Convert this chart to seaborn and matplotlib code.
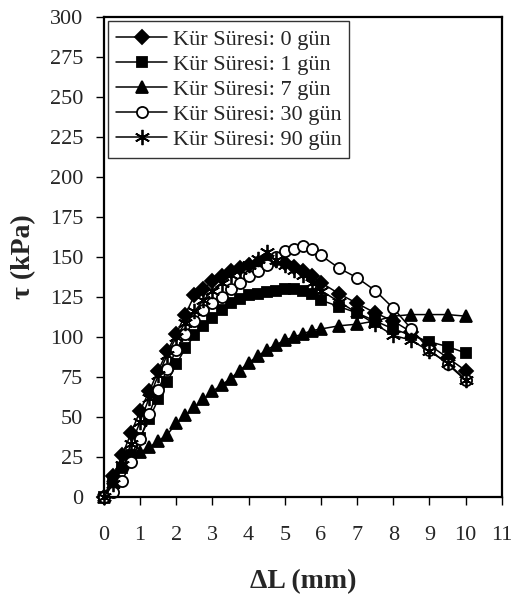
import matplotlib
matplotlib.use("Agg")
import matplotlib.pyplot as plt
import pandas as pd
import numpy as np
import seaborn as sns

# displacement values (mm), shared by all series
dl = [0, 0.25, 0.5, 0.75, 1, 1.25, 1.5, 1.75, 2, 2.25, 2.5, 2.75, 3, 3.25, 3.5,
      3.75, 4, 4.25, 4.5, 4.75, 5, 5.25, 5.5, 5.75, 6, 6.5, 7, 7.5, 8, 8.5,
      9, 9.5, 10]

# shear stress (kPa) per curing time
tau_0 = [0, 13, 26, 40, 54, 66, 79, 91, 102, 114, 126, 130, 135, 138, 141,
         143, 145, 146, 148, 148, 146, 144, 141, 138, 134, 127, 121, 115, 110,
         103, 95, 87, 79]
tau_1 = [0, 8, 18, 26, 37, 49, 61, 72, 83, 93, 101, 107, 112, 117, 121,
         124, 126, 127, 128, 129, 130, 130, 129, 127, 123, 119, 115, 110, 105,
         101, 97, 94, 90]
tau_7 = [0, 12, 20, 25, 28, 31, 35, 39, 46, 51, 56, 61, 66, 70, 74,
         79, 84, 88, 92, 95, 98, 100, 102, 104, 105, 107, 108, 110, 113,
         114, 114, 114, 113]
tau_30 = [0, 3, 10, 22, 36, 52, 67, 80, 92, 102, 110, 117, 121, 125, 130,
          134, 138, 141, 145, 150, 154, 155, 157, 155, 151, 143, 137, 129, 118,
          105, 92, 83, 73]
tau_90 = [0, 8, 20, 33, 47, 62, 76, 89, 100, 109, 116, 123, 129, 134, 139,
          142, 145, 149, 153, 148, 145, 142, 139, 134, 129, 122, 115, 108, 101,
          98, 91, 84, 73]

labels = ["Kür Süresi: 0 gün", "Kür Süresi: 1 gün", "Kür Süresi: 7 gün",
          "Kür Süresi: 30 gün", "Kür Süresi: 90 gün"]
series = [tau_0, tau_1, tau_7, tau_30, tau_90]
markers = ["D", "s", "^", "o", (6, 2, 0)]
sizes = [7.5, 7.5, 9, 8, 11]
faces = ["black", "black", "black", "white", "black"]

sns.set_style("white")
plt.rcParams["font.family"] = ["Liberation Serif", "DejaVu Serif"]

fig = plt.figure(figsize=(5.11, 6.0), dpi=100)
ax = fig.add_axes([0.2035, 0.1717, 0.7785, 0.8])

for lab, vals, mk, ms, fc in zip(labels, series, markers, sizes, faces):
    df = pd.DataFrame({"dl": dl, "tau": vals})
    sns.lineplot(data=df, x="dl", y="tau", ax=ax, color="black", lw=1.1,
                 marker=mk, markersize=ms, markerfacecolor=fc,
                 markeredgecolor="black", markeredgewidth=1.3,
                 estimator=None, sort=False, label=lab, clip_on=False)

ax.set_xlim(0, 11)
ax.set_ylim(0, 300)
ax.set_xticks(np.arange(0, 12, 1))
ax.set_yticks(np.arange(0, 301, 25))
ax.tick_params(axis="both", direction="out", length=6, width=1, color="black",
               labelsize=16, bottom=True, left=True)
ax.tick_params(axis="x", pad=15)
ax.tick_params(axis="y", pad=9)
for s in ax.spines.values():
    s.set_color("black")
    s.set_linewidth(1.6)

ax.set_xlabel("ΔL (mm)", fontsize=20, fontweight="bold", labelpad=17)
ax.set_ylabel("τ (kPa)", fontsize=20, fontweight="bold", labelpad=10)

leg = ax.legend(loc="upper left", fontsize=16, frameon=True, fancybox=False,
                edgecolor="black", handlelength=2.3, handletextpad=0.25,
                labelspacing=0.2, borderaxespad=0.2, borderpad=0.35)
leg.get_frame().set_linewidth(1.0)

fig.savefig("out.png", dpi=100)
